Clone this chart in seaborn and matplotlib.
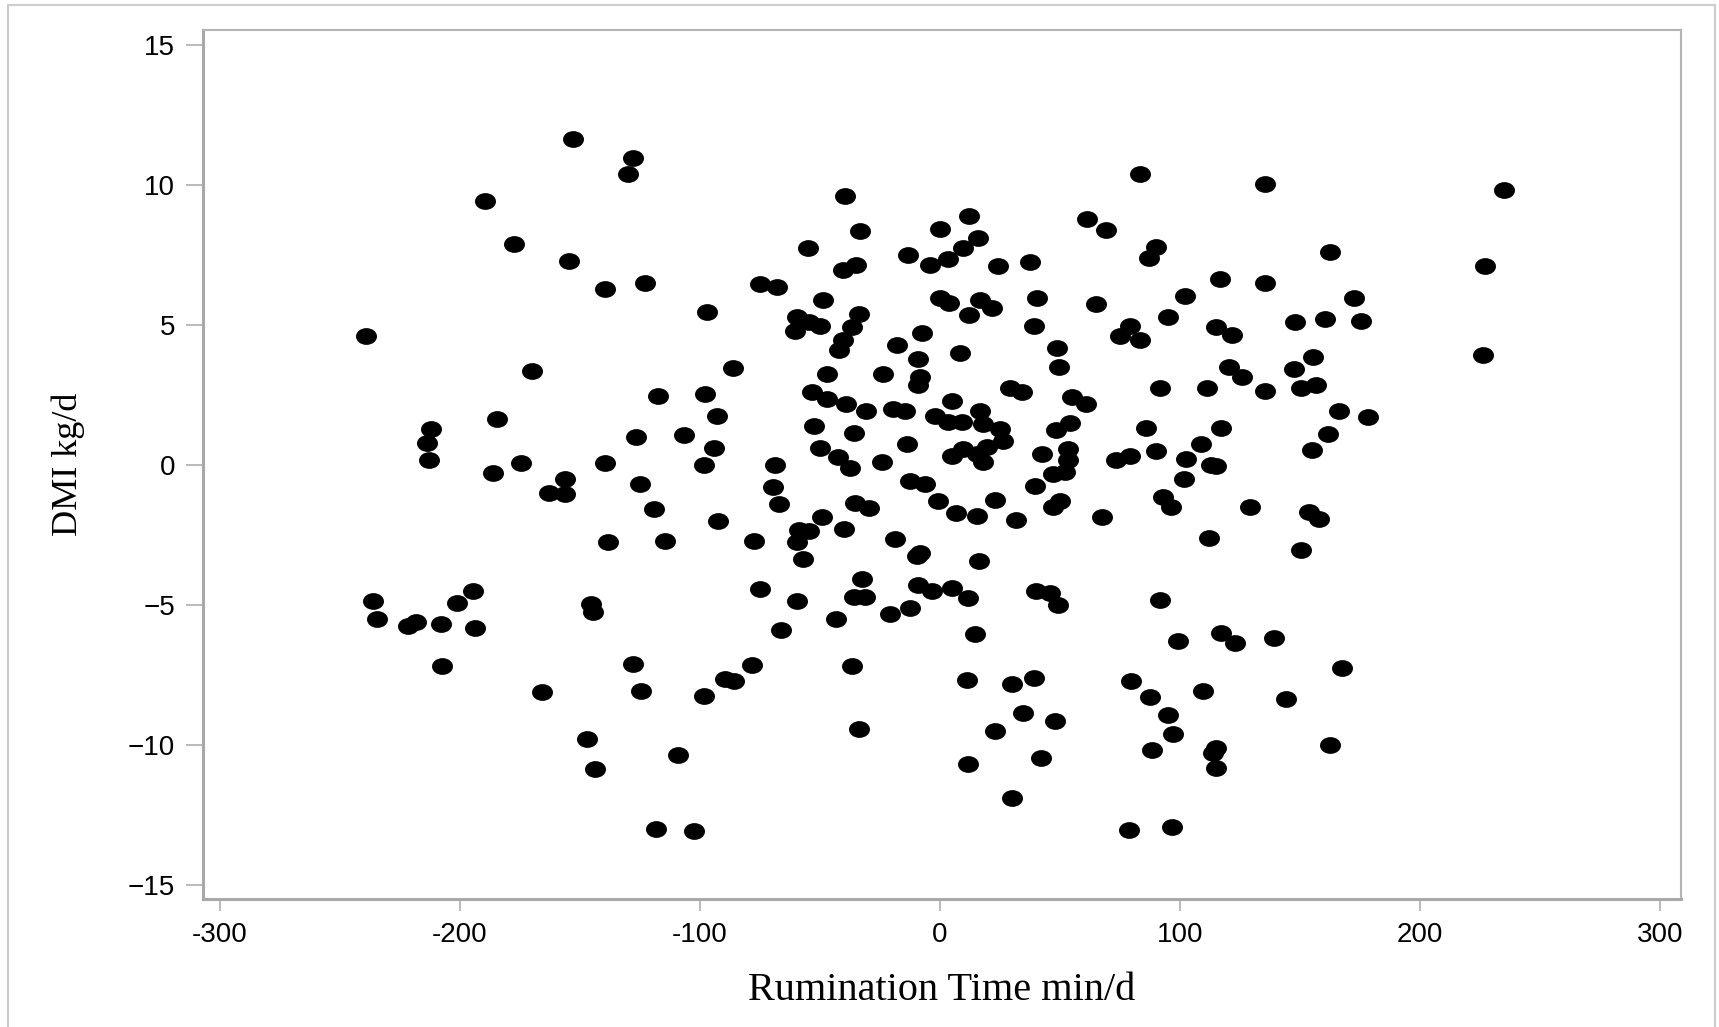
import numpy as np
import pandas as pd
import seaborn as sns
import matplotlib
matplotlib.use("Agg")
import matplotlib.pyplot as plt
from matplotlib.path import Path
from matplotlib.transforms import Affine2D
from matplotlib.patches import Rectangle

# Rumination time deviation (min/d) and DMI deviation (kg/d) per observation
rumination_time = [
    -239.3, -236.1, -234.7, -221.7, -218.5, -212.2, -213.9, -213.1, -207.8, -207.6,
    -201.1, -194.4, -193.8, -189.7, -186.4, -184.5, -177.6, -174.4, -170.2, -166.0,
    -163.0, -156.4, -156.3, -154.7, -152.8, -147.3, -145.6, -144.5, -143.6, -139.4,
    -139.4, -138.4, -130.1, -127.9, -127.9, -126.6, -125.2, -124.5, -123.0, -119.0,
    -118.2, -117.5, -114.8, -109.3, -106.5, -102.6, -98.5, -98.2, -98.1, -97.1,
    -94.3, -92.9, -92.7, -89.5, -86.3, -85.7, -78.3, -77.4, -75.2, -74.9,
    -69.6, -68.7, -67.9, -67.0, -66.3, -60.3, -59.4, -59.6, -58.9, -59.6,
    -57.1, -55.2, -54.8, -54.4, -53.4, -52.7, -50.2, -49.9, -49.2, -48.8,
    -47.1, -47.1, -43.2, -42.7, -42.3, -40.6, -40.6, -40.2, -39.5, -39.2,
    -37.5, -36.7, -36.5, -36.0, -35.8, -35.4, -34.9, -33.7, -33.6, -33.3,
    -32.6, -31.2, -30.8, -29.8, -24.3, -23.6, -20.8, -19.7, -18.7, -18.0,
    -14.6, -13.9, -13.2, -12.5, -12.5, -9.7, -9.0, -9.0, -9.0, -8.3,
    -8.3, -7.6, -6.3, -4.2, -3.5, -2.1, -0.7, 0.0, 0.0, 3.2,
    3.5, 3.7, 4.9, 4.9, 4.9, 6.7, 8.3, 9.0, 9.7, 9.7,
    11.1, 11.8, 11.8, 12.2, 12.2, 14.6, 15.3, 15.3, 15.7, 16.4,
    16.7, 16.7, 18.1, 18.1, 19.4, 21.5, 22.9, 22.9, 24.3, 25.0,
    26.4, 29.2, 30.2, 30.2, 31.5, 34.0, 34.4, 37.5, 39.1, 39.1,
    39.5, 40.0, 40.5, 41.9, 42.3, 45.8, 47.2, 47.2, 47.9, 48.3,
    48.8, 49.2, 49.5, 50.0, 52.0, 53.4, 53.4, 54.1, 54.8, 60.8,
    61.3, 64.9, 67.6, 69.1, 73.5, 75.2, 78.8, 79.1, 79.1, 79.4,
    83.3, 83.5, 86.0, 87.1, 87.4, 88.4, 89.9, 90.2, 91.8, 91.8,
    92.9, 94.8, 95.0, 96.4, 96.8, 96.9, 99.2, 101.7, 102.0, 102.7,
    108.9, 109.6, 111.2, 112.1, 113.1, 113.7, 115.1, 115.1, 115.1, 115.2,
    116.5, 116.9, 117.2, 120.4, 121.7, 122.8, 125.8, 129.0, 135.3, 135.3,
    135.5, 139.1, 144.3, 147.7, 148.0, 150.5, 150.5, 153.7, 155.1, 155.4,
    156.8, 158.1, 160.6, 161.6, 162.7, 162.7, 166.2, 167.6, 172.4, 175.5,
    178.5, 226.1, 227.1, 234.9,
]
dmi = [
    4.59, -4.88, -5.51, -5.75, -5.60, 1.29, 0.77, 0.18, -5.69, -7.18,
    -4.95, -4.52, -5.81, 9.43, -0.29, 1.64, 7.88, 0.06, 3.34, -8.11,
    -1.02, -1.04, -0.50, 7.27, 11.64, -9.78, -4.97, -5.27, -10.88, 0.07,
    6.29, -2.77, 10.38, 10.95, -7.10, 0.99, -0.68, -8.07, 6.49, -1.58,
    -13.02, 2.48, -2.71, -10.36, 1.07, -13.08, 0.01, -8.25, 2.54, 5.46,
    0.61, 1.74, -2.02, -7.65, 3.47, -7.72, -7.14, -2.71, 6.46, -4.44,
    -0.80, -0.02, 6.35, -1.40, -5.90, 4.80, 5.28, -4.85, -2.33, -2.77,
    -3.36, 7.75, -2.35, 5.10, 2.60, 1.40, 4.95, 0.61, -1.85, 5.90,
    3.25, 2.36, -5.51, 0.30, 4.09, 4.45, 6.95, -2.29, 9.61, 2.16,
    -0.11, -7.20, 4.92, -4.71, 1.13, -1.37, 7.13, 5.40, -9.44, 8.36,
    -4.06, -4.71, 1.94, -1.55, 0.09, 3.25, -5.33, 2.00, -2.65, 4.29,
    1.94, 0.75, 7.49, -0.56, -5.10, -3.24, 3.79, 2.84, -4.28, 3.13,
    -3.13, 4.72, -0.68, 7.13, -4.50, 1.76, -1.28, 8.44, 5.96, 7.34,
    1.53, 5.79, 2.30, 0.33, -4.40, -1.72, 4.00, 1.53, 7.76, 0.57,
    -7.69, -4.74, -10.70, 8.89, 5.36, -6.05, 0.39, -1.84, 8.10, -3.42,
    5.90, 1.94, 1.47, 0.09, 0.63, 5.62, -1.25, -9.50, 7.10, 1.29,
    0.84, 2.75, -7.83, -11.89, -1.96, 2.60, -8.85, 7.25, 4.95, -7.60,
    -0.74, -4.50, 5.96, -10.46, 0.39, -4.56, -0.32, -1.52, -9.15, 1.23,
    4.18, -5.00, 3.49, -1.28, -0.27, 0.57, 0.18, 1.49, 2.42, 2.18,
    8.80, 5.76, -1.87, 8.38, 0.18, 4.62, -13.06, 4.98, 0.33, -7.72,
    10.41, 4.47, 1.31, 7.40, -8.31, -10.20, 0.51, 7.78, 2.75, -4.83,
    -1.16, 5.28, -8.93, -1.49, -12.94, -9.62, -6.29, -0.50, 6.02, 0.21,
    0.75, -8.07, 2.75, -2.62, 0.01, -10.28, 4.92, -10.10, -10.84, -0.03,
    6.63, 1.31, -6.01, 3.49, 4.65, -6.38, 3.13, -1.52, 10.05, 2.63,
    6.49, -6.19, -8.37, 3.44, 5.10, 2.75, -3.03, -1.69, 0.55, 3.85,
    2.87, -1.93, 5.20, 1.11, 7.60, -10.00, 1.91, -7.27, 5.96, 5.13,
    1.73, 3.93, 7.10, 9.81,
]

x_ticks = [-300, -200, -100, 0, 100, 200, 300]
x_tick_labels = ["-300", "-200", "-100", "0", "100", "200", "300"]
y_ticks = [-15, -10, -5, 0, 5, 10, 15]
y_tick_labels = ["\u221215", "\u221210", "\u22125", "0", "5", "10", "15"]

df = pd.DataFrame({"Rumination Time min/d": rumination_time, "DMI kg/d": dmi})

sns.set_theme(style="white")
plt.rcParams["font.family"] = ["Liberation Sans", "DejaVu Sans"]

W, H = 1719, 1027
fig = plt.figure(figsize=(W / 100, H / 100), dpi=100, facecolor="white")
ax = fig.add_axes([203 / W, 1 - 899 / H, (1681 - 203) / W, (899 - 30) / H])

# slightly flattened dot marker
ellipse = Path.unit_circle().transformed(Affine2D().scale(1.0, 0.8))

sns.scatterplot(data=df, x="Rumination Time min/d", y="DMI kg/d", ax=ax,
                marker=ellipse, s=228, color="black", linewidth=0, legend=False)

ax.set_xlim(-307.1, 308.75)
ax.set_ylim(-15.51, 15.54)
ax.set_xticks(x_ticks)
ax.set_xticklabels(x_tick_labels)
ax.set_yticks(y_ticks)
ax.set_yticklabels(y_tick_labels)

frame_gray = "#a8a8a8"
for side in ["left", "bottom"]:
    ax.spines[side].set_color(frame_gray)
    ax.spines[side].set_linewidth(2.2)
for side in ["top", "right"]:
    ax.spines[side].set_color("#b4b4b4")
    ax.spines[side].set_linewidth(1.5)

ax.tick_params(axis="x", which="major", direction="out", length=8.6, width=1.1,
               color=frame_gray, pad=8, labelsize=20, labelcolor="black", bottom=True)
ax.tick_params(axis="y", which="major", direction="out", length=12.2, width=1.1,
               color=frame_gray, pad=8, labelsize=20, labelcolor="black", left=True)

ax.set_xlabel("Rumination Time min/d", fontfamily="Liberation Serif", fontsize=29, color="black")
ax.set_ylabel("DMI kg/d", fontfamily="Liberation Serif", fontsize=26, color="black")
ax.xaxis.set_label_coords(0.5, -0.084)
ax.yaxis.set_label_coords(-0.08, 0.5)

# light outer border around the figure
fig.add_artist(Rectangle((8 / W, -0.05), (1715 - 8) / W, 1.05 - 5 / H,
                         transform=fig.transFigure, fill=False,
                         edgecolor="#cccccc", linewidth=1.5))

fig.savefig("out.png", dpi=100, facecolor="white")
